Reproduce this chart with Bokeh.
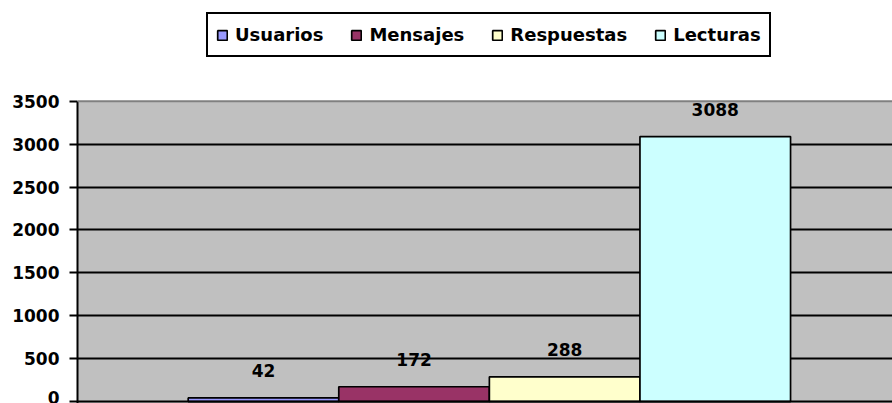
from bokeh.plotting import figure
from bokeh.models import (ColumnDataSource, Range1d, FixedTicker, Span, LabelSet,
                          Legend, LegendItem, BoxAnnotation)
from bokeh.embed import file_html
from bokeh.resources import INLINE
from bokeh.core.properties import value

categories = ["Usuarios", "Mensajes", "Respuestas", "Lecturas"]
values = [42, 172, 288, 3088]
colors = ["#9999FF", "#993366", "#FFFFCC", "#CCFFFF"]
y_ticks = [0, 500, 1000, 1500, 2000, 2500, 3000, 3500]

FONT = "DejaVu Sans"

source = ColumnDataSource(dict(
    x=list(range(len(categories))),
    top=values,
    color=colors,
    cat=categories,
    label=[str(v) for v in values],
))

p = figure(width=892, height=403, output_backend="svg", toolbar_location=None,
           x_range=Range1d(-1.235, 4.177), y_range=Range1d(-23, 4674),
           x_axis_location=None,
           min_border_left=77, min_border_right=0, min_border_top=0, min_border_bottom=0)

p.background_fill_color = "white"
p.border_fill_color = "white"
p.outline_line_color = None

# grey plot area (below the top value of the axis)
p.add_layout(BoxAnnotation(top=y_ticks[-1], fill_color="#C0C0C0", fill_alpha=1,
                           line_color=None, level="image"))

r = p.vbar(x="x", top="top", bottom=0, width=1, fill_color="color",
           line_color="black", line_width=1.7, source=source)

p.yaxis.ticker = FixedTicker(ticks=y_ticks)
p.yaxis.bounds = (-23, y_ticks[-1])
p.yaxis.major_label_text_font = FONT
p.yaxis.major_label_text_font_style = "bold"
p.yaxis.major_label_text_font_size = "17px"
p.yaxis.major_label_text_color = "black"
p.yaxis.axis_line_width = 2
p.yaxis.axis_line_color = "black"
p.yaxis.major_tick_line_width = 2
p.yaxis.major_tick_line_color = "black"
p.yaxis.major_tick_out = 8
p.yaxis.major_tick_in = 0
p.yaxis.minor_tick_out = 0
p.yaxis.minor_tick_in = 0
p.yaxis.major_label_standoff = 10

p.ygrid.ticker = FixedTicker(ticks=y_ticks[1:-1])
p.ygrid.grid_line_color = "black"
p.ygrid.grid_line_width = 2
p.xgrid.visible = False

p.add_layout(Span(location=y_ticks[0], dimension="width", line_color="black", line_width=2))
p.add_layout(Span(location=y_ticks[-1], dimension="width", line_color="#808080", line_width=2))

labels = LabelSet(x="x", y="top", text="label", source=source, y_offset=27,
                  text_align="center", text_baseline="middle",
                  text_font=value(FONT), text_font_style="bold",
                  text_font_size="17px", text_color="black")
p.add_layout(labels)

legend = Legend(
    items=[LegendItem(label=c, renderers=[r], index=i) for i, c in enumerate(categories)],
    orientation="horizontal", location=(129, 346),
    border_line_color="black", border_line_width=2, border_line_alpha=1,
    background_fill_color="white", background_fill_alpha=1,
    label_text_font=FONT, label_text_font_style="bold", label_text_font_size="18px",
    label_text_color="black",
    glyph_width=12, glyph_height=12, label_standoff=7, spacing=27,
    padding=8, margin=0, label_height=25,
)
p.add_layout(legend)

open("out.html", "w").write(file_html(p, INLINE))
